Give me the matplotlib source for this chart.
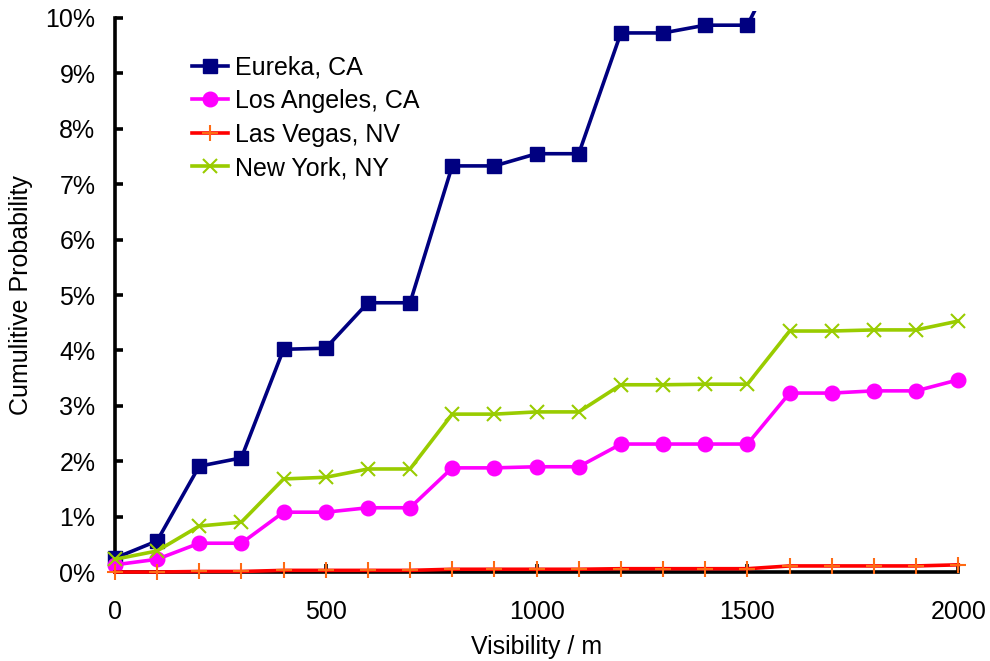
import matplotlib
matplotlib.use("Agg")
import matplotlib.pyplot as plt
from matplotlib.ticker import FuncFormatter
from matplotlib.patches import Rectangle

plt.rcParams['font.family'] = ['Liberation Sans', 'DejaVu Sans']

visibility = [0, 100, 200, 300, 400, 500, 600, 700, 800, 900, 1000,
              1100, 1200, 1300, 1400, 1500, 1600, 1700, 1800, 1900, 2000]

eureka = [0.25, 0.56, 1.91, 2.06, 4.02, 4.04, 4.86, 4.86, 7.33, 7.33, 7.55,
          7.55, 9.73, 9.73, 9.87, 9.87, 11.4, 11.4, 11.5, 11.5, 11.9]
los_angeles = [0.13, 0.23, 0.52, 0.52, 1.08, 1.08, 1.16, 1.16, 1.88, 1.88, 1.90,
               1.90, 2.31, 2.31, 2.31, 2.31, 3.23, 3.23, 3.27, 3.27, 3.47]
las_vegas = [0.00, 0.00, 0.01, 0.01, 0.03, 0.03, 0.03, 0.03, 0.05, 0.05, 0.05,
             0.05, 0.06, 0.06, 0.06, 0.06, 0.11, 0.11, 0.11, 0.11, 0.13]
new_york = [0.23, 0.38, 0.83, 0.90, 1.68, 1.71, 1.86, 1.86, 2.85, 2.85, 2.89,
            2.89, 3.38, 3.38, 3.39, 3.39, 4.35, 4.35, 4.37, 4.37, 4.53]

fig = plt.figure(figsize=(9.9, 6.61), dpi=100)
ax = fig.add_axes([0.116, 0.1346, 0.852, 0.8382])

ax.set_xlim(0, 2000)
ax.set_ylim(0, 10)

clip = Rectangle((-200, -1), 2400, 11.13, transform=ax.transData,
                 facecolor='none', edgecolor='none')
ax.add_patch(clip)

lines = []
lines += ax.plot(visibility, eureka, color='#000080', lw=2.6, marker='s', ms=9.5,
                 label='Eureka, CA')
lines += ax.plot(visibility, los_angeles, color='#FF00FF', lw=2.6, marker='o',
                 ms=10.5, label='Los Angeles, CA')
lines += ax.plot(visibility, las_vegas, color='#FF0000', lw=2.6, marker='+',
                 ms=11, mec='#FF6A13', mew=1.5, label='Las Vegas, NV')
lines += ax.plot(visibility, new_york, color='#99CC00', lw=2.6, marker='x',
                 ms=10, mew=1.5, label='New York, NY')
for ln in lines:
    ln.set_clip_path(clip)
    ln.set_zorder(4)

ax.set_xticks([0, 500, 1000, 1500, 2000])
ax.set_yticks(range(0, 11))
ax.yaxis.set_major_formatter(FuncFormatter(lambda v, p: f"{int(v)}%"))

for s in ['top', 'right']:
    ax.spines[s].set_visible(False)
for s in ['left', 'bottom']:
    ax.spines[s].set_linewidth(2.6)
    ax.spines[s].set_color('black')
    ax.spines[s].set_zorder(2)

ax.tick_params(axis='both', direction='in', width=2.6, length=6, labelsize=18,
               colors='black')
ax.tick_params(axis='x', pad=20)
ax.tick_params(axis='y', pad=14)

ax.set_xlabel('Visibility / m', fontsize=18, labelpad=8)
ax.set_ylabel('Cumulitive Probability', fontsize=18, labelpad=9)

leg = ax.legend(loc='upper left', bbox_to_anchor=(0.091, 0.932), frameon=False,
                fontsize=18, handlelength=1.45, handletextpad=0.3,
                labelspacing=0.38, borderaxespad=0, borderpad=0)

fig.savefig('out.png', dpi=100)
